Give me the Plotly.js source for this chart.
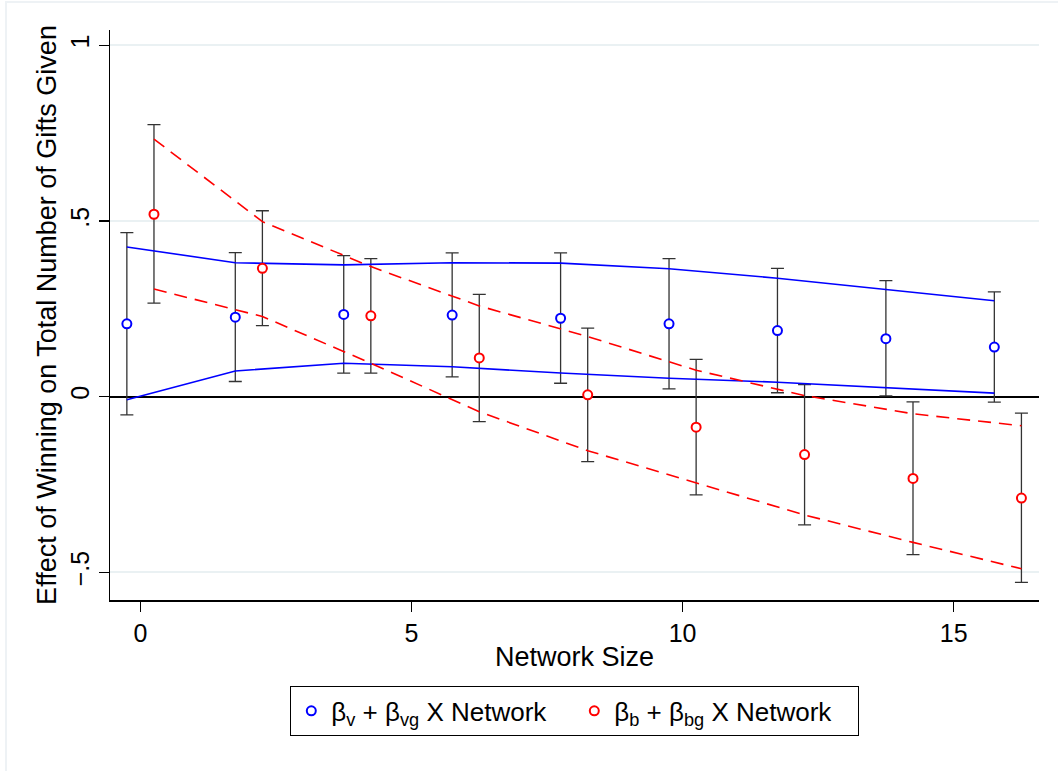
<!DOCTYPE html>
<html>
<head>
<meta charset="utf-8">
<script src="https://cdn.plot.ly/plotly-3.0.1.min.js"></script>
<style>
  html, body { margin: 0; padding: 0; background: #ffffff; }
  #wrap { position: relative; width: 1058px; height: 771px; overflow: hidden; }
  #frame { position: absolute; left: 5px; top: 1px; width: 1070px; height: 800px; border: 2px solid #eef2f5; box-sizing: border-box; pointer-events: none; z-index: 5; }
  #chart { position: absolute; left: 0; top: 0; width: 1058px; height: 771px; }
</style>
</head>
<body>
<div id="wrap">
  <div id="chart"></div>
  <div id="frame"></div>
</div>
<script>
// ---- data ----
const networkBlue = [-0.25, 1.75, 3.75, 5.75, 7.75, 9.75, 11.75, 13.75, 15.75];
const networkRed  = [0.25, 2.25, 4.25, 6.25, 8.25, 10.25, 12.25, 14.25, 16.25];

const blueEst = [0.207, 0.226, 0.234, 0.232, 0.223, 0.207, 0.188, 0.165, 0.141];
const blueHi  = [0.467, 0.410, 0.401, 0.409, 0.409, 0.393, 0.365, 0.330, 0.298];
const blueLo  = [-0.052, 0.043, 0.067, 0.056, 0.038, 0.022, 0.011, 0.002, -0.016];

const redEst = [0.519, 0.365, 0.230, 0.110, 0.005, -0.087, -0.165, -0.233, -0.289];
const redHi  = [0.774, 0.529, 0.393, 0.291, 0.195, 0.106, 0.034, -0.015, -0.047];
const redLo  = [0.266, 0.202, 0.067, -0.071, -0.185, -0.280, -0.365, -0.450, -0.529];

const blueBandUpper = [0.426, 0.381, 0.375, 0.381, 0.380, 0.364, 0.337, 0.304, 0.273];
const blueBandLower = [-0.009, 0.073, 0.095, 0.085, 0.067, 0.052, 0.041, 0.026, 0.010];

const redBandUpper = [0.733, 0.498, 0.370, 0.258, 0.171, 0.075, 0.003, -0.049, -0.083];
const redBandLower = [0.306, 0.228, 0.095, -0.043, -0.154, -0.246, -0.337, -0.415, -0.490];

const yTickVals = [-0.5, 0, 0.5, 1];
const yTickText = ['\u2212.5', '0', '.5', '1'];
const xTickVals = [0, 5, 10, 15];

const blueName = '\u03b2<sub>v</sub> + \u03b2<sub>vg</sub> X Network';
const redName  = '\u03b2<sub>b</sub> + \u03b2<sub>bg</sub> X Network';

// ---- styles ----
const BLUE = '#0000ff';
const RED = '#ff0000';
const FONT = 'Liberation Sans, Arial, sans-serif';

function errTrace(x, est, hi, lo) {
  return {
    x: x, y: est, type: 'scatter', mode: 'markers',
    marker: { size: 1, color: 'rgba(0,0,0,0)' },
    error_y: {
      type: 'data', symmetric: false,
      array: hi.map((h, i) => h - est[i]),
      arrayminus: lo.map((l, i) => est[i] - l),
      color: '#333333', thickness: 1.3, width: 6.5
    },
    showlegend: false, hoverinfo: 'skip'
  };
}

function lineTrace(x, y, color, dash) {
  return {
    x: x, y: y, type: 'scatter', mode: 'lines',
    line: { color: color, width: 1.6, dash: dash },
    showlegend: false, hoverinfo: 'skip'
  };
}

const traces = [
  errTrace(networkBlue, blueEst, blueHi, blueLo),
  errTrace(networkRed, redEst, redHi, redLo),
  lineTrace(networkBlue, blueBandUpper, BLUE, 'solid'),
  lineTrace(networkBlue, blueBandLower, BLUE, 'solid'),
  lineTrace(networkRed, redBandUpper, RED, '13px,8px'),
  lineTrace(networkRed, redBandLower, RED, '13px,8px'),
  {
    x: networkBlue, y: blueEst, type: 'scatter', mode: 'markers', name: blueName,
    marker: { symbol: 'circle', size: 9, color: 'white', line: { color: BLUE, width: 2 } }
  },
  {
    x: networkRed, y: redEst, type: 'scatter', mode: 'markers', name: redName,
    marker: { symbol: 'circle', size: 9, color: 'white', line: { color: RED, width: 2 } }
  }
];

const layout = {
  width: 1058, height: 771,
  margin: { l: 110, r: 19, t: 30, b: 171 },
  paper_bgcolor: 'rgba(0,0,0,0)',
  plot_bgcolor: 'white',
  font: { family: FONT, size: 25, color: '#000' },
  showlegend: true,
  xaxis: {
    range: [-0.561, 16.574],
    tickvals: xTickVals,
    ticks: 'outside', ticklen: 10, tickwidth: 1.3, tickcolor: '#000',
    showline: true, linecolor: '#000', linewidth: 1.5,
    showgrid: false, zeroline: false,
    tickfont: { family: FONT, size: 25, color: '#000' },
    title: { text: 'Network Size', font: { family: FONT, size: 27, color: '#000' }, standoff: 1 }
  },
  yaxis: {
    range: [-0.579, 1.0435],
    tickvals: yTickVals, ticktext: yTickText, tickangle: -90,
    ticks: 'outside', ticklen: 10, tickwidth: 1.3, tickcolor: '#000',
    showline: true, linecolor: '#000', linewidth: 1.5,
    showgrid: true, gridcolor: '#eaf1f3', gridwidth: 2,
    zeroline: true, zerolinecolor: '#000', zerolinewidth: 2,
    tickfont: { family: FONT, size: 25, color: '#000' },
    title: { text: 'Effect of Winning on Total Number of Gifts Given', font: { family: FONT, size: 27, color: '#000' }, standoff: 1 }
  },
  legend: {
    orientation: 'h', x: 0.5, xanchor: 'center', y: -0.151, yanchor: 'top',
    bordercolor: '#000', borderwidth: 1.3, bgcolor: 'white',
    font: { family: FONT, size: 26, color: '#000' },
    entrywidth: 238, entrywidthmode: 'pixels',
    traceorder: 'normal'
  }
};

Plotly.newPlot('chart', traces, layout, { displayModeBar: false, staticPlot: true });
</script>
</body>
</html>
